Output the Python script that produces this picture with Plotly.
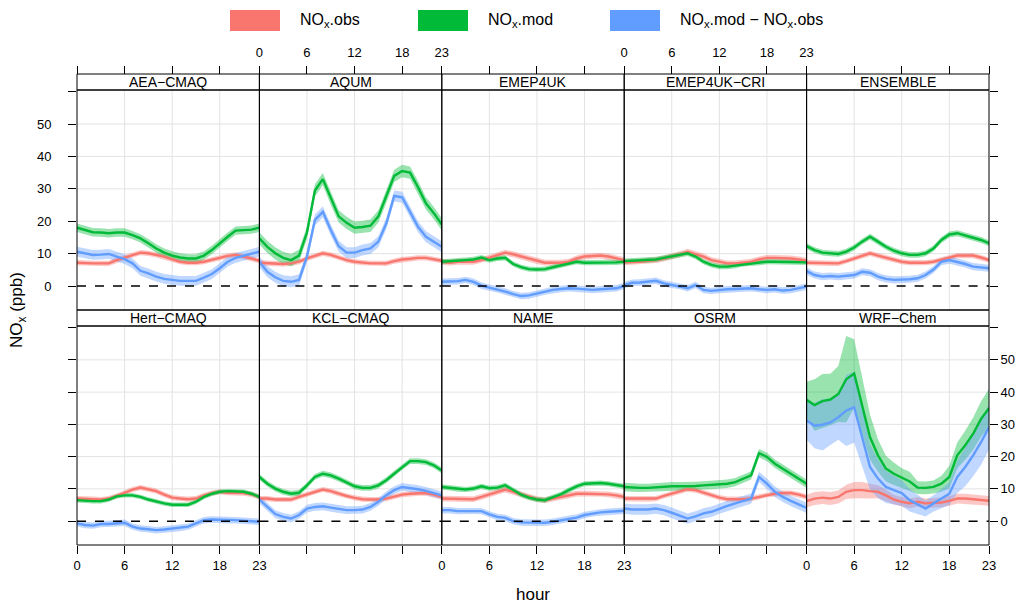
import plotly.graph_objects as go

HOURS = list(range(24))

# ---- hourly means (ppb) per model: observed, modelled, difference ----
AEA_OBS = [7.2, 7.0, 7.0, 7.0, 7.0, 8.0, 8.8, 9.6, 10.3, 10.1, 9.6, 9.1, 8.2, 7.5, 7.2, 7.2, 7.5, 8.0, 8.7, 9.3, 9.6, 9.1, 8.5, 7.8]
AEA_MOD = [18.0, 17.3, 16.6, 16.5, 16.3, 16.5, 16.5, 15.7, 14.7, 13.2, 11.6, 10.3, 9.4, 8.8, 8.5, 8.5, 9.4, 11.1, 13.2, 15.2, 17.1, 17.3, 17.4, 18.0]
AEA_DIFF = [10.6, 10.1, 9.6, 9.7, 9.9, 9.1, 8.3, 7.0, 4.7, 3.9, 2.9, 2.2, 1.9, 1.6, 1.6, 1.6, 2.6, 3.7, 5.5, 7.5, 8.7, 9.3, 9.9, 10.6]

AQUM_OBS = [7.2, 7.0, 6.8, 6.8, 7.0, 7.5, 8.5, 9.4, 10.1, 9.6, 8.8, 8.0, 7.5, 7.2, 7.0, 7.0, 7.0, 7.7, 8.2, 8.4, 8.7, 8.7, 8.2, 7.8]
AQUM_MOD = [14.7, 12.1, 10.1, 8.7, 8.0, 9.4, 16.5, 29.5, 33.0, 27.0, 21.5, 19.5, 18.0, 18.2, 18.6, 21.5, 27.5, 34.0, 35.5, 35.0, 30.5, 25.5, 22.5, 19.0]
AQUM_DIFF = [7.5, 4.4, 2.7, 1.6, 1.3, 1.9, 9.1, 20.4, 22.9, 17.3, 12.3, 10.3, 10.3, 11.1, 11.6, 13.7, 19.3, 27.8, 27.4, 22.9, 18.3, 15.2, 13.7, 12.1]

EMEP_OBS = [7.5, 7.2, 7.5, 7.5, 7.5, 8.0, 8.7, 9.4, 10.3, 9.8, 9.1, 8.5, 7.7, 7.2, 7.2, 7.2, 7.5, 8.5, 9.1, 9.3, 9.4, 9.1, 8.5, 8.0]
EMEP_MOD = [7.5, 7.6, 7.8, 8.0, 8.2, 8.8, 8.0, 8.5, 8.7, 6.8, 5.8, 5.2, 5.1, 5.2, 5.8, 6.3, 7.0, 7.5, 7.2, 7.2, 7.2, 7.2, 7.3, 7.5]
EMEP_DIFF = [1.3, 1.3, 1.5, 1.9, 1.3, 0.1, -0.5, -1.0, -1.7, -2.5, -3.1, -2.9, -2.3, -1.7, -1.2, -0.9, -0.7, -0.8, -1.0, -1.2, -1.0, -0.9, -0.7, 0.0]

CRI_OBS = [7.3, 7.3, 7.5, 7.8, 8.0, 8.5, 9.1, 9.8, 10.6, 9.9, 9.1, 8.0, 7.5, 7.0, 7.0, 7.2, 7.5, 8.2, 8.7, 8.7, 8.7, 8.5, 8.2, 7.8]
CRI_MOD = [7.7, 7.8, 7.8, 8.0, 8.2, 8.7, 9.1, 9.6, 10.1, 9.1, 7.5, 6.5, 6.0, 6.0, 6.3, 6.8, 7.0, 7.2, 7.5, 7.5, 7.5, 7.5, 7.3, 7.3]
CRI_DIFF = [0.3, 1.0, 1.1, 1.3, 1.6, 0.8, 0.3, 0.0, -0.7, 0.3, -1.2, -1.5, -1.2, -1.0, -0.9, -0.8, -0.7, -1.0, -1.2, -1.0, -1.4, -1.2, -0.8, -0.2]

ENS_OBS = [7.2, 7.2, 7.0, 7.0, 7.0, 7.7, 8.5, 9.3, 10.1, 9.4, 8.7, 8.0, 7.5, 7.2, 7.2, 7.2, 7.5, 8.2, 8.8, 9.4, 9.4, 9.4, 8.8, 8.0]
ENS_MOD = [12.3, 11.1, 10.3, 10.1, 9.9, 10.6, 11.9, 13.7, 15.2, 13.7, 12.1, 10.9, 10.1, 9.6, 9.6, 10.1, 11.6, 14.2, 15.9, 16.3, 15.5, 14.9, 14.2, 13.2]
ENS_DIFF = [4.6, 3.4, 2.9, 3.1, 2.9, 3.1, 3.4, 4.4, 4.1, 2.9, 2.2, 1.9, 1.9, 2.1, 2.4, 3.4, 5.1, 7.5, 8.0, 7.5, 6.8, 6.0, 5.7, 5.5]

HERT_OBS = [7.0, 7.0, 6.8, 6.7, 7.0, 7.8, 8.7, 9.8, 10.4, 9.9, 9.3, 8.2, 7.3, 7.0, 6.8, 7.0, 8.0, 8.7, 9.1, 8.8, 8.7, 8.7, 8.3, 7.5]
HERT_MOD = [6.5, 6.3, 6.2, 6.2, 6.7, 7.7, 8.0, 8.0, 7.5, 6.7, 6.0, 5.5, 5.1, 5.1, 5.1, 6.0, 7.5, 8.5, 9.1, 9.3, 9.3, 9.1, 8.5, 7.5]
HERT_DIFF = [-0.7, -1.2, -1.4, -0.9, -0.9, -0.7, -0.5, -1.7, -2.3, -2.5, -2.8, -2.6, -2.3, -2.1, -1.7, -0.7, 0.3, 0.5, 0.5, 0.3, 0.3, 0.1, 0.0, -0.2]

KCL_OBS = [7.0, 7.0, 6.7, 6.7, 6.7, 7.5, 8.2, 9.1, 9.8, 9.3, 8.5, 7.8, 7.2, 6.8, 6.7, 6.7, 7.0, 7.7, 8.2, 8.5, 8.7, 8.7, 8.2, 7.5]
KCL_MOD = [13.7, 11.6, 10.1, 9.1, 8.5, 8.8, 11.1, 13.7, 14.7, 14.2, 13.2, 12.1, 10.8, 10.3, 10.3, 11.1, 12.7, 14.7, 16.8, 18.6, 18.6, 18.3, 17.3, 15.7]
KCL_DIFF = [6.7, 4.4, 2.2, 1.3, 0.8, 1.9, 3.9, 4.4, 4.6, 4.2, 3.7, 3.4, 3.4, 3.6, 4.4, 6.0, 8.0, 9.6, 10.6, 10.3, 9.9, 9.4, 8.8, 8.0]

NAME_OBS = [7.0, 7.0, 6.8, 6.8, 6.8, 7.5, 8.2, 9.1, 9.8, 9.1, 8.3, 7.5, 6.8, 6.5, 7.0, 7.5, 8.0, 8.5, 8.5, 8.5, 8.5, 8.3, 8.0, 7.5]
NAME_MOD = [10.6, 10.3, 9.9, 9.8, 10.1, 10.8, 10.2, 10.4, 11.1, 9.6, 8.2, 7.3, 6.7, 6.5, 7.5, 8.3, 9.6, 10.8, 11.6, 11.8, 11.8, 11.6, 11.3, 10.8]
NAME_DIFF = [3.4, 3.4, 3.1, 3.1, 3.2, 3.1, 2.1, 1.3, 1.0, 0.0, -0.4, -0.5, -0.5, -0.5, -0.2, 0.3, 0.8, 1.1, 1.9, 2.4, 2.7, 2.9, 3.1, 3.2]

OSRM_OBS = [7.0, 7.0, 6.8, 6.8, 7.0, 7.8, 8.5, 9.3, 9.9, 9.6, 8.8, 8.0, 7.3, 6.8, 6.7, 6.8, 7.0, 7.5, 8.2, 8.5, 8.7, 8.7, 8.2, 7.5]
OSRM_MOD = [10.6, 10.4, 10.3, 10.3, 10.5, 10.6, 10.8, 10.8, 10.8, 10.9, 11.1, 11.2, 11.3, 11.6, 12.1, 13.2, 14.2, 21.1, 19.9, 17.8, 16.3, 14.7, 13.2, 11.6]
OSRM_DIFF = [3.9, 3.6, 3.6, 3.6, 3.9, 3.4, 2.6, 1.6, 0.8, 1.5, 2.4, 2.9, 3.9, 4.7, 5.5, 6.3, 7.0, 13.7, 11.6, 9.1, 7.5, 6.3, 5.1, 4.1]

WRF_OBS = [6.2, 7.0, 7.3, 7.0, 7.5, 9.1, 9.6, 9.6, 9.3, 9.1, 8.0, 6.7, 6.0, 5.5, 6.0, 5.5, 5.7, 5.8, 6.3, 7.0, 7.0, 6.8, 6.5, 6.3]
WRF_MOD = [37.6, 36.0, 37.2, 37.7, 39.4, 44.0, 45.8, 35.8, 26.0, 20.4, 16.3, 14.7, 13.4, 12.3, 10.4, 10.3, 10.6, 11.6, 13.7, 20.4, 23.5, 27.1, 31.7, 35.0]
WRF_DIFF = [31.2, 29.6, 29.9, 30.6, 32.2, 34.3, 35.3, 26.0, 16.8, 13.2, 10.6, 9.6, 8.7, 6.5, 5.1, 3.9, 5.5, 7.0, 8.5, 13.7, 16.8, 20.4, 24.5, 29.1]

# ---- 95% confidence half-widths (ppb) ----
WRF_OBS_CI = [2.0, 2.0, 2.0, 2.0, 2.0, 2.2, 2.5, 2.5, 2.3, 2.0, 1.8, 1.5, 1.5, 1.5, 1.5, 1.5, 1.5, 1.5, 1.5, 1.5, 1.5, 1.5, 1.5, 1.5]
WRF_MOD_CI = [5.6, 8.0, 8.4, 8.0, 8.7, 13.4, 10.6, 9.0, 7.0, 5.0, 4.0, 3.5, 3.0, 3.0, 2.0, 2.0, 2.0, 2.5, 3.5, 4.0, 4.5, 5.0, 5.5, 6.0]
WRF_DIFF_CI = [6.0, 7.0, 8.0, 7.0, 7.0, 11.0, 11.0, 9.0, 7.0, 6.0, 5.0, 4.5, 4.0, 3.5, 3.0, 2.5, 2.5, 3.0, 3.5, 5.0, 6.0, 6.5, 7.0, 7.0]

MODELS = ["AEA\u2212CMAQ", "AQUM", "EMEP4UK", "EMEP4UK\u2212CRI", "ENSEMBLE",
          "Hert\u2212CMAQ", "KCL\u2212CMAQ", "NAME", "OSRM", "WRF\u2212Chem"]

PANELS = [
    (AEA_OBS, AEA_MOD, AEA_DIFF, 0.8, 1.3, 1.5),
    (AQUM_OBS, AQUM_MOD, AQUM_DIFF, 0.8, 1.9, 1.7),
    (EMEP_OBS, EMEP_MOD, EMEP_DIFF, 0.9, 0.8, 1.0),
    (CRI_OBS, CRI_MOD, CRI_DIFF, 0.9, 0.8, 1.0),
    (ENS_OBS, ENS_MOD, ENS_DIFF, 0.8, 0.9, 1.1),
    (HERT_OBS, HERT_MOD, HERT_DIFF, 0.8, 0.7, 1.0),
    (KCL_OBS, KCL_MOD, KCL_DIFF, 0.8, 0.9, 1.2),
    (NAME_OBS, NAME_MOD, NAME_DIFF, 0.9, 0.8, 1.0),
    (OSRM_OBS, OSRM_MOD, OSRM_DIFF, 0.8, 1.3, 1.6),
    (WRF_OBS, WRF_MOD, WRF_DIFF, WRF_OBS_CI, WRF_MOD_CI, WRF_DIFF_CI),
]

LINE_COLORS = ["#F8766D", "#00BA38", "#619CFF"]
FILL_COLORS = ["rgba(248,118,109,0.4)", "rgba(0,186,56,0.4)", "rgba(97,156,255,0.4)"]
KEY_COLORS = ["#F8766D", "#00BA38", "#619CFF"]

Y_RANGE = [-7.4, 60.5]
X_RANGE = [0, 23]

# page geometry (px)
W, H = 1022, 605
ML, MR, MT, MB = 77, 33, 74, 60
PW, PH = W - ML - MR, H - MT - MB


def py(y_px):
    return (H - MB - y_px) / PH


def px(x_px):
    return (x_px - ML) / PW


ROW_STRIP = [(py(74), py(90)), (py(310), py(326))]
ROW_PANEL = [(py(310), py(90)), (py(545), py(326))]

FONT = "Liberation Sans, Arial, sans-serif"

fig = go.Figure()
shapes = []
annotations = []

for k, (name, series) in enumerate(zip(MODELS, PANELS)):
    r, c = divmod(k, 5)
    xa, ya = f"x{k + 1}", f"y{k + 1}"
    obs, mod, diff, ci_o, ci_m, ci_d = series
    for vals, ci, fc in zip((obs, mod, diff), (ci_o, ci_m, ci_d), FILL_COLORS):
        if not isinstance(ci, list):
            ci = [ci] * len(vals)
        upper = [v + e for v, e in zip(vals, ci)]
        lower = [v - e for v, e in zip(vals, ci)]
        fig.add_trace(go.Scatter(
            x=HOURS + HOURS[::-1], y=upper + lower[::-1], fill="toself",
            fillcolor=fc, line=dict(width=0), mode="lines", hoverinfo="skip",
            showlegend=False, xaxis=xa, yaxis=ya))
    for vals, lc in zip((obs, mod, diff), LINE_COLORS):
        fig.add_trace(go.Scatter(
            x=HOURS, y=vals, mode="lines", line=dict(color=lc, width=2.4),
            showlegend=False, xaxis=xa, yaxis=ya))

    x0, x1 = c / 5, (c + 1) / 5
    xkey = "xaxis" if k == 0 else f"xaxis{k + 1}"
    ykey = "yaxis" if k == 0 else f"yaxis{k + 1}"
    xaxis = dict(domain=[x0, x1], range=X_RANGE, tickvals=[0, 6, 12, 18, 23],
                 ticks="outside", ticklen=8, tickcolor="black", tickwidth=1,
                 showgrid=False, zeroline=False, showline=False, automargin=False,
                 tickfont=dict(family=FONT, size=13, color="black"))
    if r == 0:
        xaxis.update(side="top", anchor="free", position=1.0,
                     showticklabels=c in (1, 3), ticklabelstandoff=4)
    else:
        xaxis.update(side="bottom", anchor=ya, showticklabels=c in (0, 2, 4))
    yaxis = dict(domain=list(ROW_PANEL[r]), range=Y_RANGE,
                 tickvals=[0, 10, 20, 30, 40, 50, 60],
                 ticktext=["0", "10", "20", "30", "40", "50", ""],
                 showgrid=False, zeroline=False, showline=False, anchor=xa,
                 tickcolor="black", tickwidth=1, ticklen=8, automargin=False,
                 tickfont=dict(family=FONT, size=13, color="black"))
    if c == 0:
        yaxis.update(side="left", ticks="outside", showticklabels=r == 0,
                     ticklabelstandoff=14)
    elif c == 4:
        yaxis.update(side="right", ticks="outside", showticklabels=r == 1,
                     ticklabelstandoff=0)
    else:
        yaxis.update(ticks="", showticklabels=False)
    fig.update_layout({xkey: xaxis, ykey: yaxis})

    # grid lines
    for gx in (6, 12, 18):
        shapes.append(dict(type="line", xref=xa, yref=ya, x0=gx, x1=gx,
                           y0=Y_RANGE[0], y1=Y_RANGE[1], layer="below",
                           line=dict(color="#e3e3e3", width=1)))
    for gy in (10, 20, 30, 40, 50):
        shapes.append(dict(type="line", xref=xa, yref=ya, x0=0, x1=23,
                           y0=gy, y1=gy, layer="below",
                           line=dict(color="#e3e3e3", width=1)))
    # zero reference
    shapes.append(dict(type="line", xref=xa, yref=ya, x0=0, x1=23, y0=0, y1=0,
                       line=dict(color="black", width=1.5, dash="dash")))
    # panel and strip frames
    p0, p1 = ROW_PANEL[r]
    s0, s1 = ROW_STRIP[r]
    shapes.append(dict(type="rect", xref="paper", yref="paper", x0=x0, x1=x1,
                       y0=p0, y1=p1, line=dict(color="black", width=1)))
    shapes.append(dict(type="rect", xref="paper", yref="paper", x0=x0, x1=x1,
                       y0=s0, y1=s1, line=dict(color="black", width=1)))
    annotations.append(dict(text=name, xref="paper", yref="paper",
                            x=(x0 + x1) / 2, y=(s0 + s1) / 2, showarrow=False,
                            xanchor="center", yanchor="middle",
                            font=dict(family=FONT, size=14, color="black")))

# key above the panels
LEGEND_LABELS = ["NO<sub>x</sub>.obs", "NO<sub>x</sub>.mod",
                 "NO<sub>x</sub>.mod \u2212 NO<sub>x</sub>.obs"]
KEY_SWATCH_X = [230, 418, 610]
for lab, sx, col in zip(LEGEND_LABELS, KEY_SWATCH_X, KEY_COLORS):
    shapes.append(dict(type="rect", xref="paper", yref="paper",
                       x0=px(sx), x1=px(sx + 50), y0=py(31), y1=py(10),
                       fillcolor=col, line=dict(width=0)))
    annotations.append(dict(text=lab, xref="paper", yref="paper",
                            x=px(sx + 68), y=py(20), showarrow=False,
                            xanchor="left", yanchor="middle",
                            font=dict(family=FONT, size=16, color="black")))

annotations.append(dict(text="hour", xref="paper", yref="paper", x=0.5, y=py(594),
                        showarrow=False, xanchor="center", yanchor="middle",
                        font=dict(family=FONT, size=17, color="black")))
annotations.append(dict(text="NO<sub>x</sub> (ppb)", xref="paper", yref="paper",
                        x=px(18), y=py(310), showarrow=False, textangle=-90,
                        xanchor="center", yanchor="middle",
                        font=dict(family=FONT, size=17, color="black")))

fig.update_layout(
    width=W, height=H, margin=dict(l=ML, r=MR, t=MT, b=MB, pad=0, autoexpand=False),
    paper_bgcolor="white", plot_bgcolor="white", showlegend=False,
    shapes=shapes, annotations=annotations,
    font=dict(family=FONT, color="black"),
)

fig.write_html("out.html")
